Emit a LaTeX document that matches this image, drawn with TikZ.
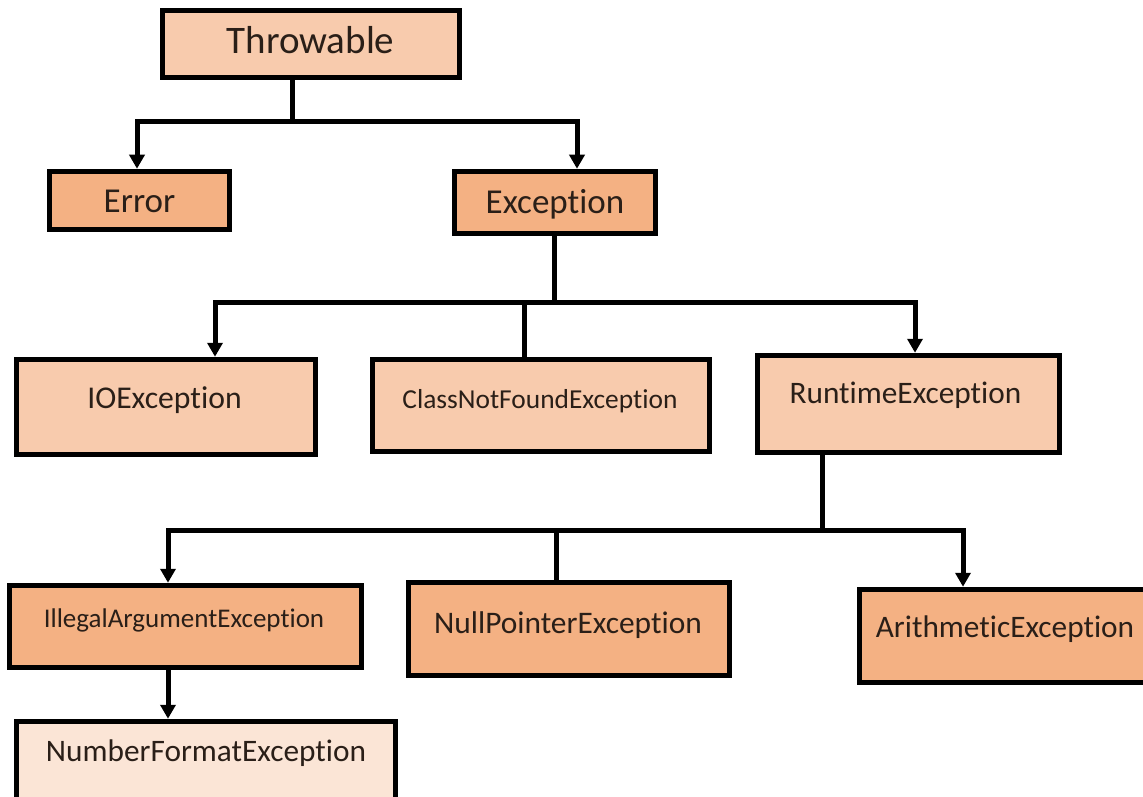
\documentclass[tikz,border=0pt]{standalone}
\usepackage{fontspec}
\setmainfont{Carlito}[Ligatures=NoCommon]
\usetikzlibrary{arrows.meta}

\definecolor{peach}{HTML}{F8CBAD}
\definecolor{darkpeach}{HTML}{F4B183}
\definecolor{palepeach}{HTML}{FBE5D6}
\definecolor{ink}{HTML}{2A1F18}

\begin{document}
\begin{tikzpicture}[x=1pt,y=-1pt,line width=5pt,>={Triangle[length=14pt,width=15pt]},
    box/.style={draw=black,line width=5.5pt,inner sep=0pt},
    lbl/.style={text=ink,anchor=base,inner sep=0pt}]
    % page size, the lower right boxes run off the edge
    \useasboundingbox (0,0) rectangle (1143,797);
    \clip (0,0) rectangle (1143,797);
    \fill[white] (0,0) rectangle (1143,797);

    % draw the boxes
    \foreach \n/\x/\y/\w/\h/\c in {
        throw/311/44/297/67/peach,
        err/139.5/200.5/180/58/darkpeach,
        exc/555/202.5/201/62/darkpeach,
        io/166/407/299/95/peach,
        cnf/541/405.5/337/92/peach,
        rt/908.5/404/302/97/peach,
        iae/185.5/626.5/352/82/darkpeach,
        npe/569/629/321/93/darkpeach,
        ae/1008.5/636/298/93/darkpeach,
        nfe/206/774.5/379/106/palepeach}
            \node[box,fill=\c,minimum width=\w pt,minimum height=\h pt] (\n) at (\x,\y) {};

    % the class names, placed on their baselines
    \foreach \n/\x/\y/\s/\t in {
        throw/310.5/54/39/Throwable,
        err/139.5/212.5/35/Error,
        exc/555/213/35/Exception,
        io/164.5/408/31.7/IOException,
        cnf/540/408/27.4/ClassNotFoundException,
        rt/905.5/403/31.3/RuntimeException,
        iae/184/627/27/IllegalArgumentException,
        npe/568/633/31.4/NullPointerException,
        ae/1005/637/31.3/ArithmeticException,
        nfe/206/761/31.3/NumberFormatException}
            \node[lbl,font=\fontsize{\s}{\s}\selectfont] (\n-t) at (\x,\y) {\t};

    % Throwable splits into Error and Exception
    \coordinate (j1) at (292,122);
    \coordinate (j1l) at (137,122);
    \coordinate (j1r) at (577,122);
    \draw (throw.south -| j1) -- (j1);
    \draw[<->] (j1l |- err.north) -- (j1l) -- (j1r) -- (j1r |- exc.north);

    % the checked and unchecked ones under Exception
    \coordinate (j2) at (554,302);
    \coordinate (j2l) at (215,302);
    \coordinate (j2m) at (524,302);
    \coordinate (j2r) at (915,302);
    \draw (exc.south -| j2) -- (j2);
    \draw[<->] (j2l |- io.north) -- (j2l) -- (j2r) -- (j2r |- rt.north);
    \draw (j2m) -- (j2m |- cnf.north);

    % children of RuntimeException
    \coordinate (j3) at (822,530);
    \coordinate (j3l) at (168,530);
    \coordinate (j3m) at (556,530);
    \coordinate (j3r) at (963,530);
    \draw (rt.south -| j3) -- (j3);
    \draw[<->] (j3l |- iae.north) -- (j3l) -- (j3r) -- (j3r |- ae.north);
    \draw (j3m) -- (j3m |- npe.north);
    \draw[->] (iae.south -| j3l) -- (j3l |- nfe.north);
\end{tikzpicture}
\end{document}
